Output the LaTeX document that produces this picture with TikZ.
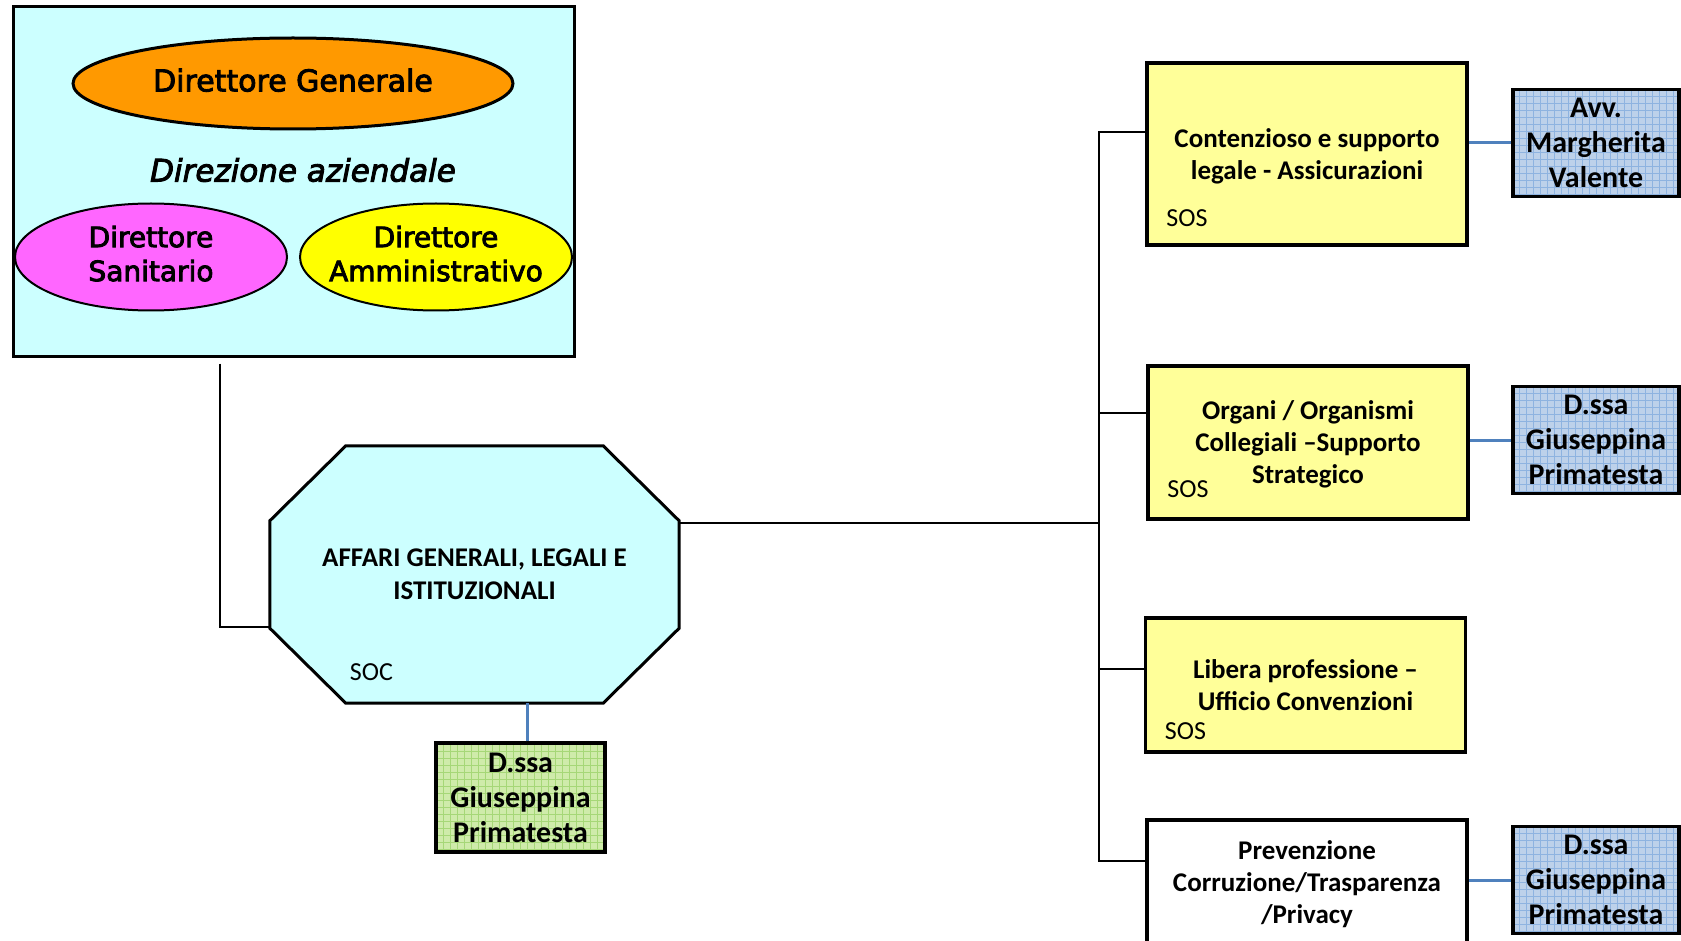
\documentclass[tikz,border=0pt]{standalone}
\usepackage{fontspec}
\setmainfont{Carlito}
\newfontfamily\dirfont[FakeBold=3]{DejaVu Sans}
\usepackage{xcolor}
\usepackage{tikz}
\usetikzlibrary{positioning}
\usetikzlibrary{shapes.geometric}
\usetikzlibrary{backgrounds}
\definecolor{dirbg}{HTML}{CCFFFF}
\definecolor{dgorange}{HTML}{FF9900}
\definecolor{dspink}{HTML}{FF66FF}
\definecolor{dayellow}{HTML}{FFFF00}
\definecolor{sosfill}{HTML}{FFFF99}
\definecolor{persblue}{HTML}{BDD1EA}
\definecolor{persgrid}{HTML}{8EB3E0}
\definecolor{persgreen}{HTML}{CFEBAA}
\definecolor{greengrid}{HTML}{A6D777}
\definecolor{linkblue}{HTML}{4F81BD}
\tikzset{
	dirnode/.style={
			draw,
			ellipse,
			line width=2pt,
			inner xsep=-25pt,
			inner ysep=0pt,
			text depth=7pt,
			align=center,
			font=\dirfont\fontsize{28}{34}\selectfont
		},
	sosbox/.style={
			draw,
			line width=3.5pt,
			fill=sosfill,
			minimum width=320pt,
			text depth=0pt,
			align=center,
			font=\bfseries\fontsize{27}{32}\selectfont
		},
	soslabel/.style={
			inner sep=0pt,
			font=\fontsize{26}{30}\selectfont
		},
	persbox/.style 2 args={
			draw,
			line width=3.5pt,
			fill=#1,
			minimum width=166pt,
			minimum height=107pt,
			inner sep=0pt,
			align=center,
			font=\bfseries\fontsize{30}{35}\selectfont,
			path picture={
					\draw[#2, line width=0.6pt] (path picture bounding box.south west)
					grid[step=7pt] (path picture bounding box.north east);
				}
		},
	link/.style={line width=2pt},
	perslink/.style={line width=3pt, draw=linkblue}
}

\begin{document}
\begin{tikzpicture}[x=1pt, y=-1pt]
		\useasboundingbox (0,0) rectangle (1681,941);

		% Direzione aziendale
		\node[draw,
			line width=3pt,
			fill=dirbg,
			minimum width=561pt,
			minimum height=349pt
		] (dir) at (293.5,181.5) {};

		\node[dirnode,
			fill=dgorange,
			line width=3pt,
			minimum width=440pt,
			minimum height=91pt,
			font=\dirfont\fontsize{30}{34}\selectfont
		] (dg) at (293,83.5) {Direttore Generale};

		\node[font=\dirfont\itshape\fontsize{31}{35}\selectfont]
		(dirtitle) at (303,170) {Direzione aziendale};

		\node[dirnode,
			fill=dspink,
			minimum width=272pt,
			minimum height=107pt
		] (ds) at (151,257) {Direttore\\Sanitario};

		\node[dirnode,
			fill=dayellow,
			minimum width=272pt,
			minimum height=107pt
		] (da) at (436,257) {Direttore\\Amministrativo};

		% SOC
		\node[minimum width=409pt,
			minimum height=257pt,
			align=center,
			font=\bfseries\fontsize{27}{33}\selectfont
		] (soc) at (474.5,574.5) {AFFARI GENERALI, LEGALI E\\ISTITUZIONALI};

		\begin{scope}[on background layer]
			\draw[line width=3pt, fill=dirbg]
			([xshift=76pt]soc.north west) -- ([xshift=-76pt]soc.north east)
			-- ([yshift=-75pt]soc.north east) -- ([yshift=75pt]soc.south east)
			-- ([xshift=-76pt]soc.south east) -- ([xshift=76pt]soc.south west)
			-- ([yshift=75pt]soc.south west) -- ([yshift=-75pt]soc.north west)
			-- cycle;
		\end{scope}

		\node[soslabel] (soc-sos) at (371.5,672) {SOC};

		\node[persbox={persgreen}{greengrid},
			minimum width=169pt,
			minimum height=109pt
		] (green) at (520.5,797.5) {D.ssa\\Giuseppina\\Primatesta};

		% SOS
		\node[sosbox, minimum height=182pt] (cont) at (1307,154)
		{Contenzioso e supporto\\legale - Assicurazioni};
		\node[sosbox, minimum height=153pt] (org) at (1308,442.5)
		{Organi / Organismi\\Collegiali –Supporto\\Strategico};
		\node[sosbox, minimum height=134pt] (lib) at (1305.5,685)
		{Libera professione –\\Ufficio Convenzioni};
		\node[sosbox, fill=white, minimum height=124pt] (prev) at (1307,882)
		{Prevenzione\\Corruzione/Trasparenza\\/Privacy};

		\node[soslabel, above right=20pt and 21pt of cont.south west] (cont-sos) {SOS};
		\node[soslabel, above right=22.5pt and 21pt of org.south west] (org-sos) {SOS};
		\node[soslabel, above right=13.5pt and 21pt of lib.south west] (lib-sos) {SOS};

		% Responsabili
		\node[persbox={persblue}{persgrid}] (p1) at (1596,143) {Avv.\\Margherita\\Valente};
		\node[persbox={persblue}{persgrid}] (p2) at (1596,440) {D.ssa\\Giuseppina\\Primatesta};
		\node[persbox={persblue}{persgrid}] (p3) at (1596,880) {D.ssa\\Giuseppina\\Primatesta};

		% Lines
		\coordinate (bus) at (1099,523);

		\draw[link] ([xshift=-73.5pt,yshift=-6pt]dir.south) |- ([yshift=-52.5pt]soc.west);
		\draw[link] ([yshift=51.5pt]soc.east) -- (bus);

		\draw[link] ([yshift=22pt]cont.west) -| (bus);
		\draw[link] ([yshift=29.5pt]org.west) -| (bus);
		\draw[link] ([yshift=16pt]lib.west) -| (bus);
		\draw[link] ([yshift=21pt]prev.west) -| (bus);

		\draw[perslink] (p1.west -| cont.east) -- (p1.west);
		\draw[perslink] (p2.west -| org.east) -- (p2.west);
		\draw[perslink] (p3.west -| prev.east) -- (p3.west);
		\draw[perslink] ([xshift=6.5pt]green.north) -- ([xshift=6.5pt]green.north |- soc.south);
	\end{tikzpicture}
\end{document}
